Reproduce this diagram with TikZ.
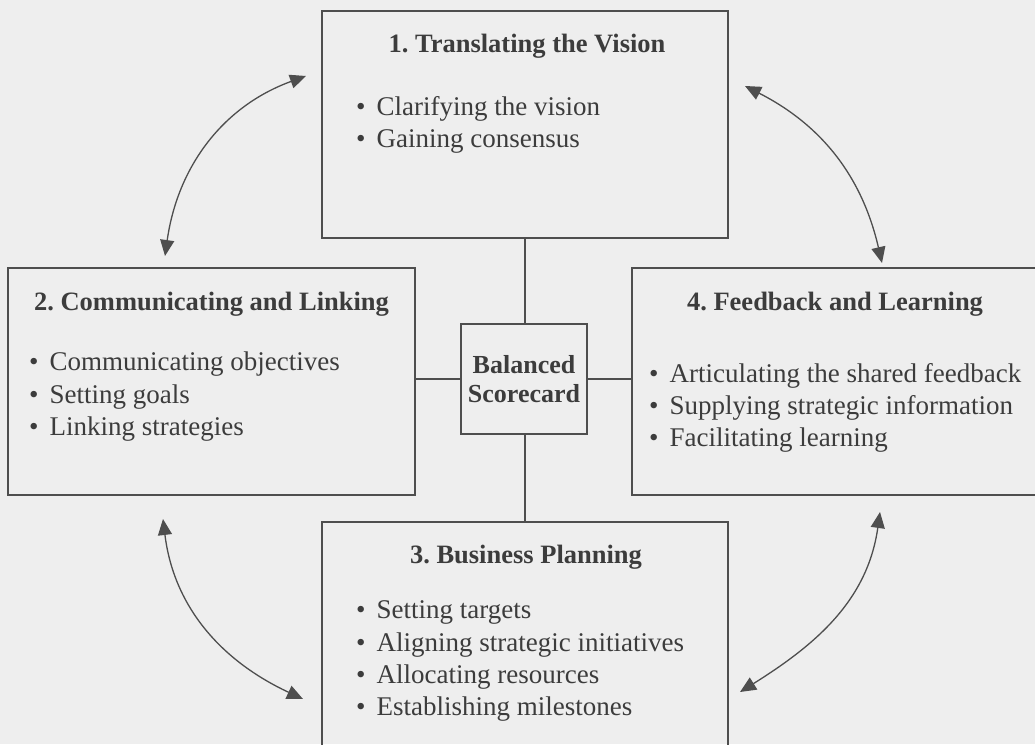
\documentclass[tikz,border=0pt]{standalone}
\usepackage{fontspec}
\setmainfont{Liberation Serif}
\usetikzlibrary{arrows.meta}
\definecolor{paper}{HTML}{EEEEEE}
\definecolor{ink}{HTML}{3C3C3C}
\definecolor{rule}{HTML}{4E4E4E}
\newcommand{\itm}{\textbullet\hspace{11pt}}
\tikzset{
  panel/.style={draw=rule, line width=1.4pt, rectangle, inner sep=0pt},
  heading/.style={anchor=base, inner sep=0pt, text=ink,
    font=\fontsize{26.5}{31}\selectfont\bfseries},
  item/.style={anchor=base west, inner sep=0pt, text=ink,
    font=\fontsize{27}{32}\selectfont},
  hub/.style={anchor=base, inner sep=0pt, text=ink,
    font=\fontsize{26}{30}\selectfont\bfseries},
  link/.style={draw=rule, line width=1.4pt},
  cycle/.style={draw=rule, line width=1.3pt,
    {Triangle[length=16pt,width=14pt]}-{Triangle[length=16pt,width=14pt]}},
}
\begin{document}
\frenchspacing
\begin{tikzpicture}[x=1pt,y=-1pt]
  % page area
  \fill[paper] (0,0) rectangle (1035,744);
  \useasboundingbox (0,0) rectangle (1035,744);
  \clip (0,0) rectangle (1035,744);

  % the four panels and the hub
  \node[panel, minimum width=406pt, minimum height=227pt] (p1) at (525,124.5) {};
  \node[panel, minimum width=407pt, minimum height=227pt] (p2) at (211.5,381.5) {};
  \node[panel, minimum width=408pt, minimum height=227pt] (p4) at (836,381.5) {};
  \node[panel, minimum width=406pt, minimum height=228pt] (p3) at (525,636) {};
  \node[panel, minimum width=126pt, minimum height=110pt] (hubbox) at (524,379) {};

  % spokes from the hub
  \draw[link] (hubbox.north -| p1.south) -- (p1.south);
  \draw[link] (hubbox.south -| p3.north) -- (p3.north);
  \draw[link] (hubbox.west) -- (hubbox.west -| p2.east);
  \draw[link] (hubbox.east) -- (hubbox.east -| p4.west);

  % hub label
  \node[hub] (hubA) at (524,373) {Balanced};
  \node[hub] (hubB) at (524,402) {Scorecard};

  % 1. Translating the Vision
  \node[heading] (t1) at (527,52) {1. Translating the Vision};
  \node[item] (i11) at (356,115) {\itm Clarifying the vision};
  \node[item] (i12) at (356,147) {\itm Gaining consensus};

  % 2. Communicating and Linking
  \node[heading] (t2) at (211.5,310) {2. Communicating and Linking};
  \node[item] (i21) at (29,370) {\itm Communicating objectives};
  \node[item] (i22) at (29,403) {\itm Setting goals};
  \node[item] (i23) at (29,435) {\itm Linking strategies};

  % 4. Feedback and Learning
  \node[heading] (t4) at (835,310) {4. Feedback and Learning};
  \node[item] (i41) at (649,382) {\itm Articulating the shared feedback};
  \node[item] (i42) at (649,414) {\itm Supplying strategic information};
  \node[item] (i43) at (649,446) {\itm Facilitating learning};

  % 3. Business Planning
  \node[heading] (t3) at (526,563) {3. Business Planning};
  \node[item] (i31) at (356,618) {\itm Setting targets};
  \node[item] (i32) at (356,651) {\itm Aligning strategic initiatives};
  \node[item] (i33) at (356,683) {\itm Allocating resources};
  \node[item] (i34) at (356,715) {\itm Establishing milestones};

  % ends of the cycle arrows between neighbouring panels
  \coordinate (a1s) at (165,256);
  \coordinate (a1e) at (306,76);
  \coordinate (a2s) at (745,86);
  \coordinate (a2e) at (882,263);
  \coordinate (a3s) at (163,519);
  \coordinate (a3e) at (303,699);
  \coordinate (a4s) at (880,512);
  \coordinate (a4e) at (740,692);

  \draw[cycle] (a1s) to[out=82, in=200] (a1e);
  \draw[cycle] (a2s) to[out=-27, in=103] (a2e);
  \draw[cycle] (a3s) to[out=-83, in=155] (a3e);
  \draw[cycle] (a4s) to[out=-98, in=32] (a4e);
\end{tikzpicture}
\end{document}
